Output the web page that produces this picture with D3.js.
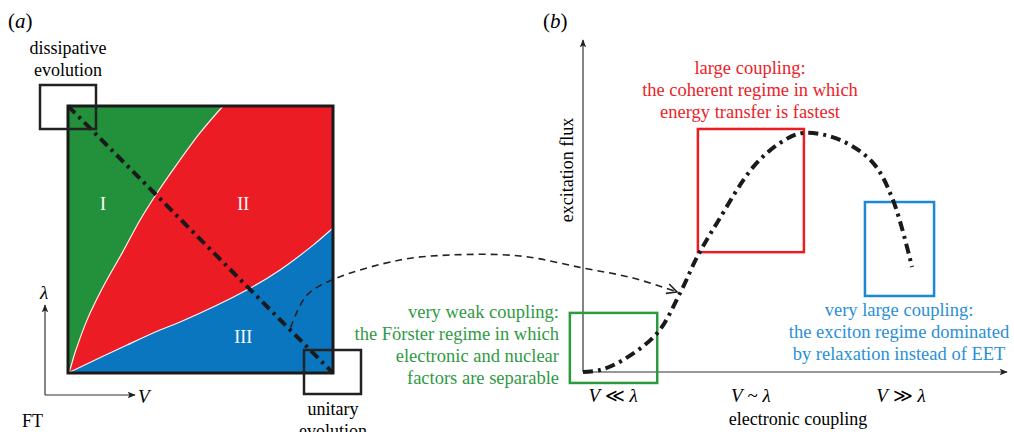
<!DOCTYPE html>
<html><head><meta charset="utf-8">
<script src="https://cdn.jsdelivr.net/npm/d3@7"></script>
<style>
body{margin:0;background:#fff}
text{font-family:"Liberation Serif","Times New Roman",serif}
</style></head><body><div id="chart"></div>
<script>
// panel (a): phase boundaries, V and lambda both scaled to 0..1
var greenEdgeV = [0, 0.004, 0.026, 0.072, 0.132, 0.204, 0.272, 0.336, 0.404, 0.498, 0.585]
var greenEdgeL = [0, 0.004, 0.075, 0.199, 0.322, 0.449, 0.573, 0.674, 0.772, 0.899, 1]
var blueEdgeV = [0, 0.008, 0.223, 0.347, 0.423, 0.675, 0.8, 0.925, 1]
var blueEdgeL = [0, 0.004, 0.105, 0.161, 0.191, 0.311, 0.386, 0.479, 0.543]
var regionNames = ['I', 'II', 'III']

// panel (b): excitation flux against electronic coupling (arbitrary units 0..10)
var coupling = [0, 0.40, 0.94, 1.75, 2.29, 2.69, 3.16, 4.01, 4.65, 5.19, 6.06, 6.84, 7.31, 7.76]
var flux = [0, 0.06, 0.36, 1.17, 2.38, 3.46, 4.49, 6.17, 6.90, 7.20, 6.99, 6.30, 5.18, 3.16]
var regimeNames = ['very weak', 'large', 'very large']
var regimeX0 = [-0.31, 2.71, 6.65]
var regimeX1 = [1.75, 5.21, 8.28]
var regimeY0 = [-0.33, 3.61, 2.29]
var regimeY1 = [1.78, 7.32, 5.12]
var tickAt = [0.71, 3.96, 7.5]
var tickRel = ['\u226A', '~', '\u226B']

var W = 1014, H = 432
var svg = d3.select('#chart').append('svg').attr('width', W).attr('height', H)
    .attr('font-family', '"Liberation Serif","Times New Roman",serif')

var defs = svg.append('defs')
defs.append('marker').attr('id', 'tri')
    .attr('viewBox', '0 -5 10 10').attr('refX', 9).attr('refY', 0)
    .attr('markerWidth', 10).attr('markerHeight', 8).attr('markerUnits', 'userSpaceOnUse')
    .attr('orient', 'auto')
    .append('path').attr('d', 'M0,-4L10,0L0,4L2,0Z').attr('fill', '#222')
defs.append('marker').attr('id', 'open')
    .attr('viewBox', '0 -6 12 12').attr('refX', 11).attr('refY', 0)
    .attr('markerWidth', 12).attr('markerHeight', 12).attr('markerUnits', 'userSpaceOnUse')
    .attr('orient', 'auto')
    .append('path').attr('d', 'M1,-5L11,0L1,5').attr('fill', 'none').attr('stroke', '#222').attr('stroke-width', 1.6)

var dashDot = '10,5,3,5'

/* ---------- panel (a) ---------- */
var xa = d3.scaleLinear().domain([0, 1]).range([68, 333])
var ya = d3.scaleLinear().domain([0, 1]).range([373, 106])
var edge = d3.line().x(function (d) { return xa(d[0]) }).y(function (d) { return ya(d[1]) })
    .curve(d3.curveCatmullRom)
var greenPts = d3.zip(greenEdgeV, greenEdgeL)
var bluePts = d3.zip(blueEdgeV, blueEdgeL)

var pa = svg.append('g')
pa.append('rect').attr('x', xa(0)).attr('y', ya(1))
    .attr('width', xa(1) - xa(0)).attr('height', ya(0) - ya(1)).attr('fill', '#ec1c24')
pa.append('path')
    .attr('d', edge(greenPts) + 'L' + xa(0) + ',' + ya(1) + 'Z')
    .attr('fill', '#23903b')
pa.append('path')
    .attr('d', edge(bluePts) + 'L' + xa(1) + ',' + ya(0) + 'Z')
    .attr('fill', '#0a76c0')
pa.append('path').attr('d', edge(greenPts)).attr('fill', 'none').attr('stroke', '#f2f2f2').attr('stroke-width', 1.2)
pa.append('path').attr('d', edge(bluePts)).attr('fill', 'none').attr('stroke', '#f2f2f2').attr('stroke-width', 1.2)

var regionPos = [[0.132, 0.61], [0.661, 0.61], [0.661, 0.112]]
pa.selectAll('.reg').data(regionNames).enter().append('text')
    .attr('x', function (d, i) { return xa(regionPos[i][0]) })
    .attr('y', function (d, i) { return ya(regionPos[i][1]) })
    .attr('text-anchor', 'middle').attr('fill', '#fff').attr('font-size', '18px')
    .text(function (d) { return d })

// diagonal from dissipative to unitary corner
pa.append('line').attr('x1', xa(0)).attr('y1', ya(1)).attr('x2', xa(1)).attr('y2', ya(0))
    .attr('stroke', '#1a1a1a').attr('stroke-width', 4).attr('stroke-dasharray', dashDot)

pa.append('rect').attr('x', xa(0)).attr('y', ya(1))
    .attr('width', xa(1) - xa(0)).attr('height', ya(0) - ya(1))
    .attr('fill', 'none').attr('stroke', '#1a1a1a').attr('stroke-width', 3)

// corner boxes
pa.append('rect').attr('x', xa(0) - 28).attr('y', ya(1) - 21).attr('width', 56).attr('height', 44)
    .attr('fill', 'none').attr('stroke', '#222').attr('stroke-width', 2.5)
pa.append('rect').attr('x', xa(1) - 29).attr('y', ya(0) - 23).attr('width', 57).attr('height', 44)
    .attr('fill', 'none').attr('stroke', '#222').attr('stroke-width', 2.5)

pa.append('text').attr('x', 8).attr('y', 28).attr('font-size', '21px')
    .html('(<tspan font-style="italic">a</tspan>)')
pa.append('text').attr('x', 68).attr('y', 54).attr('text-anchor', 'middle').attr('font-size', '18px').text('dissipative')
pa.append('text').attr('x', 68).attr('y', 76).attr('text-anchor', 'middle').attr('font-size', '18px').text('evolution')
pa.append('text').attr('x', 333).attr('y', 415).attr('text-anchor', 'middle').attr('font-size', '18px').text('unitary')
pa.append('text').attr('x', 333).attr('y', 437).attr('text-anchor', 'middle').attr('font-size', '18px').text('evolution')
pa.append('text').attr('x', 22).attr('y', 427).attr('font-size', '18px').text('FT')

// small V / lambda axes
pa.append('path').attr('d', 'M45,395L45,305').attr('stroke', '#333').attr('stroke-width', 1.2).attr('marker-end', 'url(#tri)')
pa.append('path').attr('d', 'M45,395L135,395').attr('stroke', '#333').attr('stroke-width', 1.2).attr('marker-end', 'url(#tri)')
pa.append('text').attr('x', 40).attr('y', 299).attr('font-size', '19px').attr('font-style', 'italic').text('\u03bb')
pa.append('text').attr('x', 138).attr('y', 403).attr('font-size', '19px').attr('font-style', 'italic').text('V')

/* ---------- panel (b) ---------- */
var xb = d3.scaleLinear().domain([0, 10]).range([583, 1007])
var yb = d3.scaleLinear().domain([0, 10]).range([372, 40])
var pb = svg.append('g')

pb.append('path').attr('d', 'M' + xb(0) + ',' + yb(0) + 'L' + xb(0) + ',' + yb(10))
    .attr('stroke', '#333').attr('stroke-width', 1.2).attr('marker-end', 'url(#tri)')
pb.append('path').attr('d', 'M' + xb(0) + ',' + yb(0) + 'L' + xb(10) + ',' + yb(0))
    .attr('stroke', '#333').attr('stroke-width', 1.2).attr('marker-end', 'url(#tri)')

var regimeColor = ['#2a9a3c', '#ec1c24', '#1a88d4']
var textColor = ['#2f9a44', '#ec2229', '#2a8fd6']
pb.selectAll('.box').data(regimeNames).enter().append('rect')
    .attr('x', function (d, i) { return xb(regimeX0[i]) })
    .attr('y', function (d, i) { return yb(regimeY1[i]) })
    .attr('width', function (d, i) { return xb(regimeX1[i]) - xb(regimeX0[i]) })
    .attr('height', function (d, i) { return yb(regimeY0[i]) - yb(regimeY1[i]) })
    .attr('fill', 'none').attr('stroke', function (d, i) { return regimeColor[i] }).attr('stroke-width', 2.5)

var curve = d3.line().x(function (d) { return xb(d[0]) }).y(function (d) { return yb(d[1]) })
    .curve(d3.curveCatmullRom)
pb.append('path').attr('d', curve(d3.zip(coupling, flux)))
    .attr('fill', 'none').attr('stroke', '#1a1a1a').attr('stroke-width', 4).attr('stroke-dasharray', dashDot)

// dashed link from the diagonal in (a) to the curve in (b)
var linkPts = [[xa(0.84), ya(0.17)], [xa(0.9), ya(0.29)], [xa(1), ya(0.35)], [400, 260], [450, 255],
    [520, 256], [xb(0), 268], [633, 278], [677, 292]]
pb.append('path').attr('d', d3.line().curve(d3.curveCatmullRom)(linkPts))
    .attr('fill', 'none').attr('stroke', '#222').attr('stroke-width', 1.6)
    .attr('stroke-dasharray', '7,5').attr('marker-end', 'url(#open)')

pb.append('text').attr('x', 543).attr('y', 28).attr('font-size', '21px')
    .html('(<tspan font-style="italic">b</tspan>)')
pb.append('text').attr('transform', 'translate(573,170) rotate(-90)').attr('text-anchor', 'middle')
    .attr('font-size', '18px').text('excitation flux')
pb.append('text').attr('x', 798).attr('y', 425).attr('text-anchor', 'middle').attr('font-size', '18px')
    .text('electronic coupling')

pb.selectAll('.tick').data(tickAt).enter().append('text')
    .attr('x', function (d) { return xb(d) }).attr('y', 402)
    .attr('text-anchor', 'middle').attr('font-size', '19px')
    .html(function (d, i) {
        return '<tspan font-style="italic">V</tspan> ' + tickRel[i] + ' <tspan font-style="italic">\u03bb</tspan>'
    })

var notes = [
    { lines: ['very weak coupling:', 'the F\u00f6rster regime in which', 'electronic and nuclear', 'factors are separable'], x: 559, y: 318, anchor: 'end' },
    { lines: ['large coupling:', 'the coherent regime in which', 'energy transfer is fastest'], x: 750, y: 74, anchor: 'middle' },
    { lines: ['very large coupling:', 'the exciton regime dominated', 'by relaxation instead of EET'], x: 899, y: 316, anchor: 'middle' }
]
notes.forEach(function (n, i) {
    var t = pb.append('text').attr('text-anchor', n.anchor).attr('font-size', '18.5px').attr('fill', textColor[i])
    n.lines.forEach(function (l, j) {
        t.append('tspan').attr('x', n.x).attr('y', n.y + j * 22).text(l)
    })
})
</script></body></html>
